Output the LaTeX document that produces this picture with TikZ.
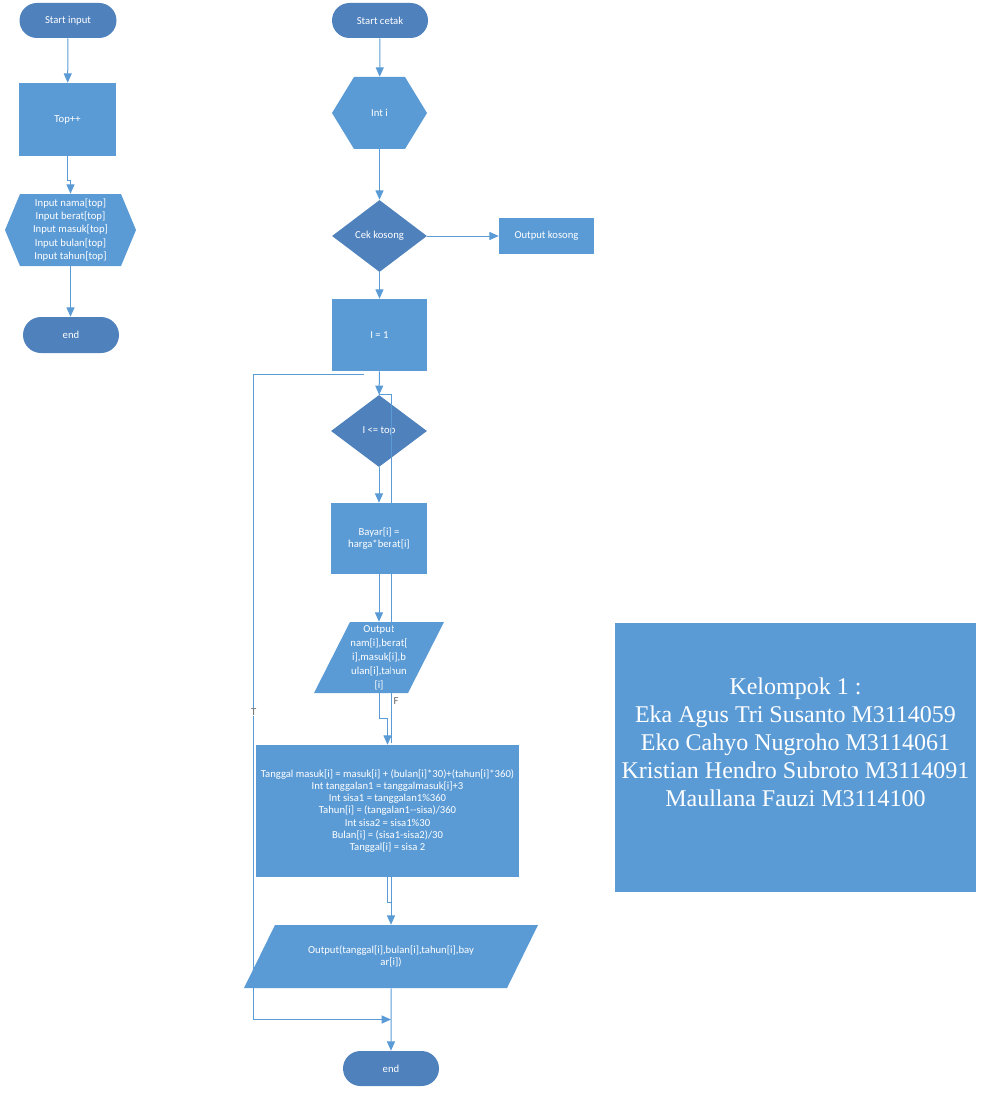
\documentclass[tikz,border=0pt]{standalone}
\usepackage{fontspec}
\setsansfont{Carlito}
\newfontfamily\groupfont{Liberation Serif}
\usetikzlibrary{shapes.geometric,shapes.misc,arrows.meta,positioning,calc,backgrounds}
\definecolor{termblue}{HTML}{4F81BD}
\definecolor{procblue}{HTML}{5B9BD5}
\definecolor{lineblue}{HTML}{5B9BD5}

\begin{document}
\begin{tikzpicture}[x=0.75pt,y=-0.75pt,
font=\sffamily\fontsize{8}{9.2}\selectfont,
every node/.style={text=white,align=center,inner sep=0pt},
term/.style={rounded rectangle,fill=termblue,minimum width=72pt,minimum height=26.25pt},
process/.style={rectangle,fill=procblue},
decision/.style={diamond,fill=termblue,minimum width=72pt,minimum height=54pt},
hexbox/.style={rectangle,path picture={\fill[procblue]
  ([xshift=#1]path picture bounding box.north west) -- ([xshift=-#1]path picture bounding box.north east)
  -- (path picture bounding box.east) -- ([xshift=-#1]path picture bounding box.south east)
  -- ([xshift=#1]path picture bounding box.south west) -- (path picture bounding box.west) -- cycle;}},
iobox/.style={rectangle,path picture={\fill[procblue]
  ([xshift=#1]path picture bounding box.north west) -- (path picture bounding box.north east)
  -- ([xshift=-#1]path picture bounding box.south east) -- (path picture bounding box.south west) -- cycle;}},
flow/.style={draw=lineblue,line width=0.75pt,-{Triangle[length=7pt,width=6pt]}},
link/.style={draw=lineblue,line width=0.75pt},
lbl/.style={text=black!60,fill=white,inner sep=0.5pt}]

\useasboundingbox (0,0) rectangle (982,1095);

% input part
\node[term,minimum width=72.75pt] (startin) at (68,20.5) {Start input};
\node[process,minimum width=72.75pt,minimum height=54.75pt] (topinc) at (67.5,119.5) {Top++};
\node[hexbox=11.25pt,minimum width=98.25pt,minimum height=54pt,font=\sffamily\fontsize{8}{9.9}\selectfont] (inhex) at (70.5,230)
  {Input nama[top]\\Input berat[top]\\Input masuk[top]\\Input bulan[top]\\Input tahun[top]};
\node[term,minimum height=27pt] (endin) at (71,335) {end};

% print part
\node[term] (startct) at (380,20.5) {Start cetak};
\node[hexbox=16.5pt,minimum width=71.25pt,minimum height=54pt] (inthex) at (379.5,113) {Int i};
\node[decision,minimum width=71.25pt] (cek) at (379.5,236) {Cek kosong};
\node[process,minimum width=71.25pt,minimum height=27pt] (outks) at (546.5,236) {Output kosong};
\node[process,minimum width=71.25pt,minimum height=54pt] (iset) at (379.5,335) {I = 1};
\node[decision] (cond) at (379,431) {I <= top};
\node[process,minimum width=72pt,minimum height=53.25pt] (bayar) at (379,538.5) {Bayar[i] =\\harga*berat[i]};
\node[iobox=27pt,minimum width=97.5pt,minimum height=53.25pt,font=\sffamily\fontsize{8}{10.5}\selectfont] (outpr) at (379,657.5)
  {Output\\nam[i],berat[\\i],masuk[i],b\\ulan[i],tahun\\{}[i]};
\node[process,minimum width=197.25pt,minimum height=99pt] (hitung) at (387.5,811)
  {Tanggal masuk[i] = masuk[i] + (bulan[i]*30)+(tahun[i]*360)\\
   Int tanggalan1 = tanggalmasuk[i]+3\\
   Int sisa1 = tanggalan1\%360\\
   Tahun[i] = (tangalan1-{}-sisa)/360\\
   Int sisa2 = sisa1\%30\\
   Bulan[i] = (sisa1-sisa2)/30\\
   Tanggal[i] = sisa 2};
\node[iobox=23.25pt,minimum width=220.5pt,minimum height=47.25pt] (outfin) at (391,956.5)
  {Output(tanggal[i],bulan[i],tahun[i],bay\\ar[i])};
\node[term] (endct) at (391,1068.5) {end};

% group members
\node[process,minimum width=270.75pt,minimum height=201.75pt,text depth=23pt,font=\groupfont\fontsize{18}{21}\selectfont] (group) at (795.5,757.5)
  {Kelompok 1 :\\Eka Agus Tri Susanto M3114059\\Eko Cahyo Nugroho M3114061\\Kristian Hendro Subroto M3114091\\Maullana Fauzi M3114100};

\draw[flow] (startin) -- (topinc);
\draw[flow] (topinc.south) -- ++(0,24) -| (inhex.north);
\draw[flow] (inhex.south) -- (inhex.south |- endin.north);

\draw[flow] (startct) -- (inthex);
\draw[flow] (inthex) -- (cek);
\draw[flow] (cek) -- (outks);
\draw[flow] (cek) -- (iset);
\draw[flow] (iset) -- (cond);
\draw[flow] (cond) -- (bayar);
\draw[flow] (bayar) -- (outpr);
\draw[flow] (outpr.south) -- ++(0,25) -| (hitung.north);
\coordinate (fret) at ($(hitung.north)+(3.5,-2)$);
\draw[link] (fret) |- (cond.north) node[lbl,pos=0.06,right=1pt,fill=none] {F};
\draw[flow] (hitung.south) -- ++(0,25) -| (outfin.north);
\draw[link] (outfin.north |- hitung.south) -- ++(0,25);
\draw[flow] (outfin) -- (endct);

% loop back (T)
\coordinate (tfrom) at ($(iset.south)+(-15.5,3)$);
\coordinate (tjoin) at ($(outfin.south)!0.5!(endct.north)$);
\begin{scope}[on background layer]
\draw[flow] (tfrom) -| node[lbl,pos=0.79] {T} ($(outfin.west)+(10,0)$) |- (tjoin);
\end{scope}
\end{tikzpicture}
\end{document}
